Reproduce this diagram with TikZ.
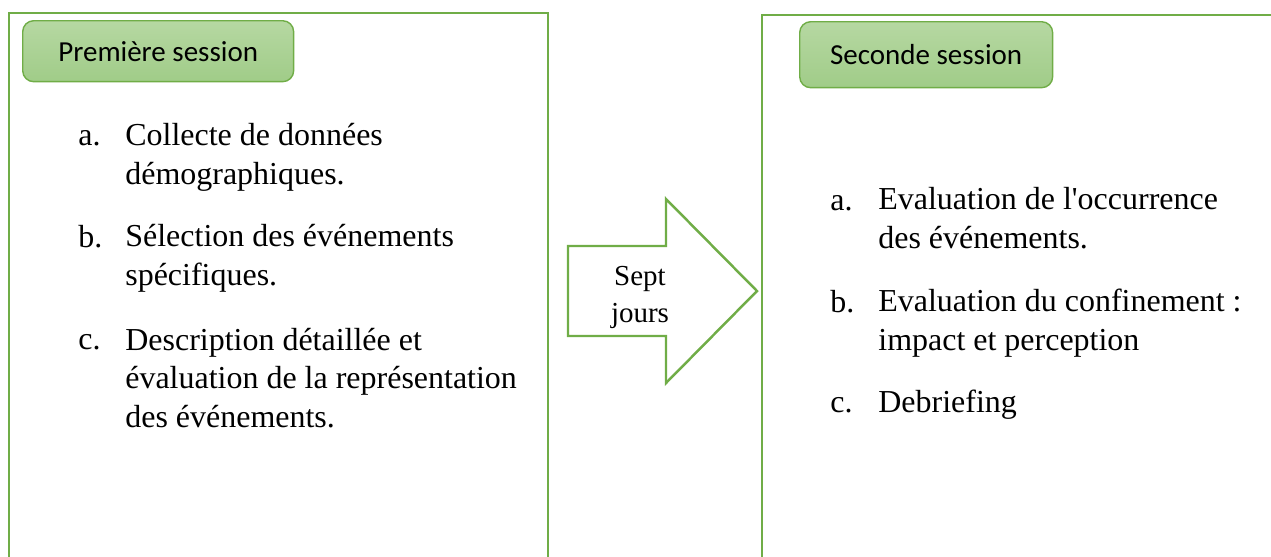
\documentclass[tikz,border=0pt]{standalone}
\usepackage{fontspec}
\setmainfont{Liberation Serif}
\newfontfamily\pillfont{Carlito}
\usetikzlibrary{positioning}
\definecolor{LeafGreen}{HTML}{70AD47}
\definecolor{PaleGreen}{HTML}{B6D8A2}
\definecolor{SoftGreen}{HTML}{A0CC88}
\tikzset{
  outerbox/.style={draw=LeafGreen, line width=1.4pt, rectangle, anchor=north west, inner sep=0pt},
  pill/.style={draw=LeafGreen, line width=0.8pt, rectangle, rounded corners=0.22cm,
    top color=PaleGreen, bottom color=SoftGreen, anchor=north west, inner sep=0pt,
    font=\pillfont\fontsize{16.5}{20}\selectfont},
  itemlab/.style={anchor=base west, inner sep=0pt, font=\fontsize{18.2}{21.9}\selectfont},
  itemtext/.style={anchor=base west, align=left, inner sep=0pt, font=\fontsize{18.2}{21.9}\selectfont},
  daysarrow/.style={draw=LeafGreen, line width=1.4pt, fill=white, line join=miter},
  daystext/.style={anchor=base, align=center, inner sep=0pt, font=\fontsize{16.5}{21}\selectfont}
}

\begin{document}
\begin{tikzpicture}[x=0.02cm, y=-0.02cm]
  \useasboundingbox (0,0) rectangle (1271,556);
  \clip (0,0) rectangle (1271,556);

  % first session (text nodes sit on their last baseline)
  \node[outerbox, minimum width=10.78cm, minimum height=11.8cm] (first) at (8,12) {};
  \node[pill, minimum width=5.42cm, minimum height=1.22cm] (firsttag) at (22,20) {Première session};

  \node[itemtext] (fa) at (125,184) {Collecte de données\\démographiques.};
  \node[itemtext] (fb) at (125,285) {Sélection des événements\\spécifiques.};
  \node[itemtext] (fc) at (125,427) {Description détaillée et\\évaluation de la représentation\\des événements.};
  \foreach \lab/\y in {a/145,b/247,c/349}{%
    \node[itemlab] (fl\lab) at (78,\y) {\lab.};
  }

  % seven days
  \draw[daysarrow] (568,246) -- (666,246) -- (666,199) -- (757,291)
    -- (666,383) -- (666,336) -- (568,336) -- cycle;
  \node[daystext] (days) at (640,322) {Sept\\jours};

  % second session
  \node[outerbox, minimum width=10.2cm, minimum height=11.8cm] (second) at (761,14) {};
  \node[pill, minimum width=5.06cm, minimum height=1.32cm] (secondtag) at (799,21) {Seconde session};

  \node[itemtext] (sa) at (878,248) {Evaluation de l\textquotesingle occurrence\\des événements.};
  \node[itemtext] (sb) at (878,350) {Evaluation du confinement :\\impact et perception};
  \node[itemtext] (sc) at (878,412) {Debriefing};
  \foreach \lab/\y in {a/210,b/312,c/412}{%
    \node[itemlab] (sl\lab) at (830,\y) {\lab.};
  }
\end{tikzpicture}
\end{document}
